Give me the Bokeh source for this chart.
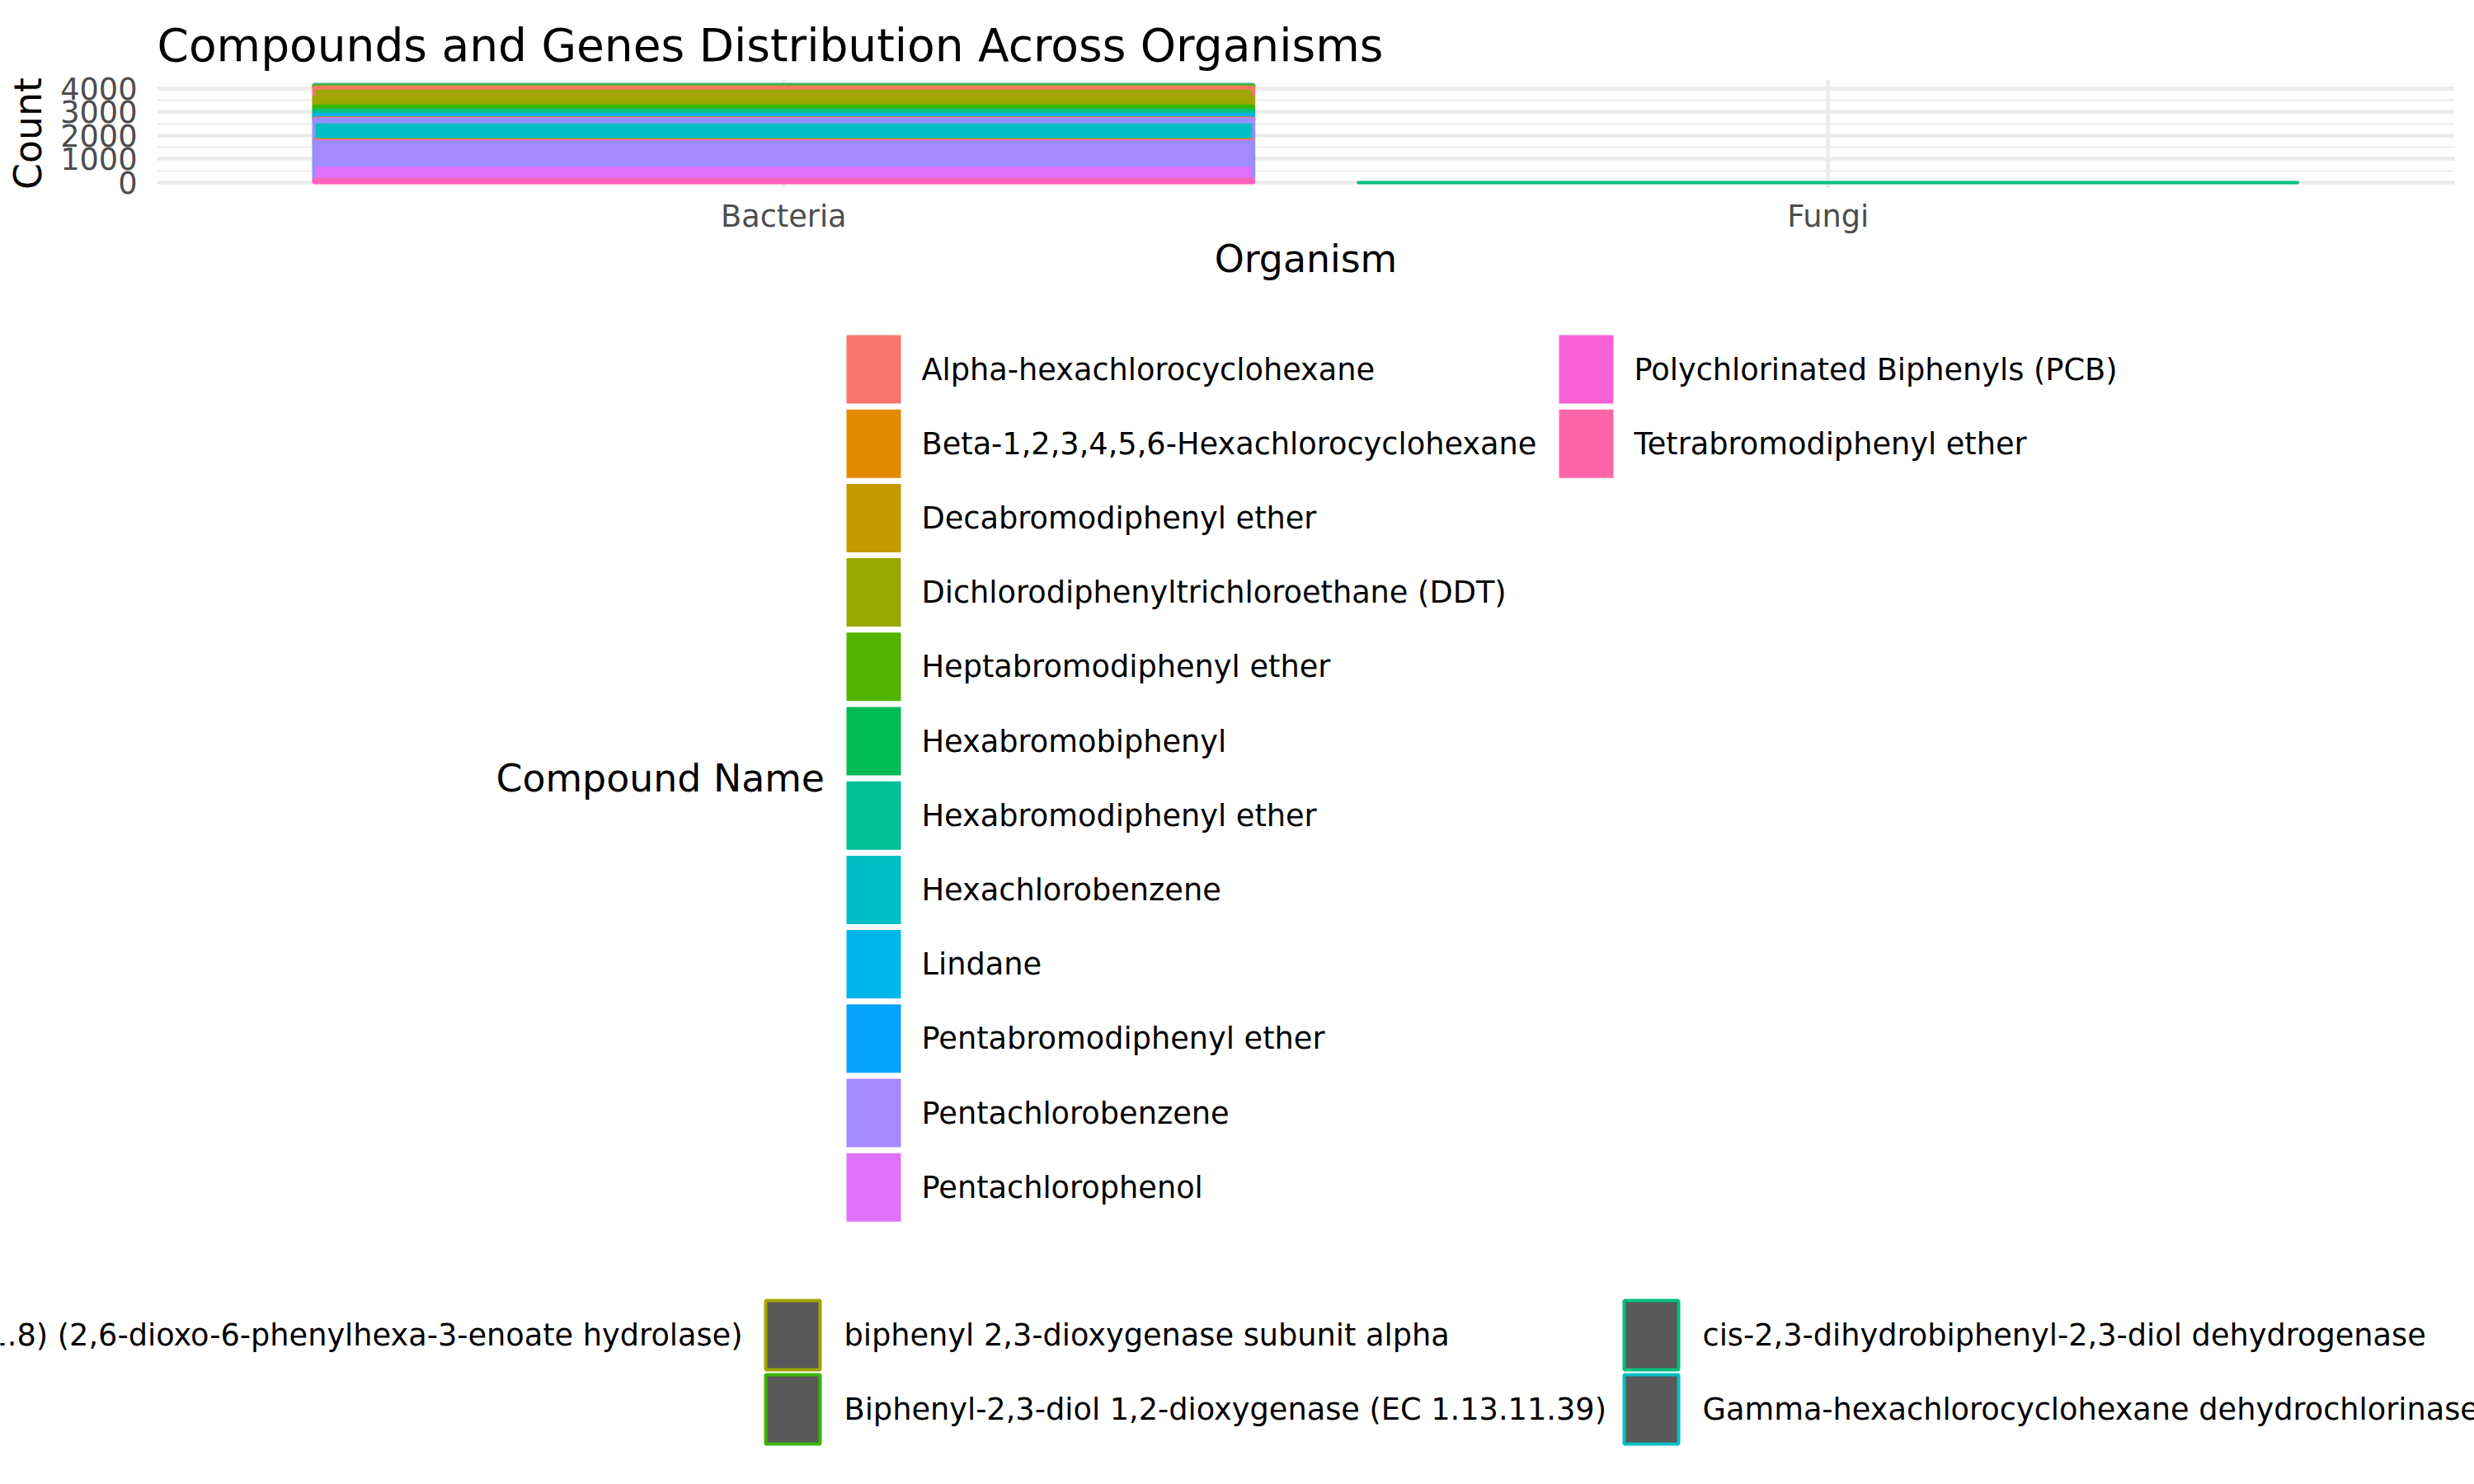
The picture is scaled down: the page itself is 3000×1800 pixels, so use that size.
from bokeh.plotting import figure
from bokeh.models import Range1d, FixedTicker
from bokeh.layouts import column
from bokeh.core.properties import value
from bokeh.embed import file_html
from bokeh.resources import INLINE

# ---------------- data ----------------
organisms = ["Bacteria", "Fungi"]

compounds = [
    "Alpha-hexachlorocyclohexane",
    "Beta-1,2,3,4,5,6-Hexachlorocyclohexane",
    "Decabromodiphenyl ether",
    "Dichlorodiphenyltrichloroethane (DDT)",
    "Heptabromodiphenyl ether",
    "Hexabromobiphenyl",
    "Hexabromodiphenyl ether",
    "Hexachlorobenzene",
    "Lindane",
    "Pentabromodiphenyl ether",
    "Pentachlorobenzene",
    "Pentachlorophenol",
    "Polychlorinated Biphenyls (PCB)",
    "Tetrabromodiphenyl ether",
]

# gene legend entries as far as visible (first label is cut at the page edge,
# second entry of the first column lies off-page)
gene_labels = [
    "1.8) (2,6-dioxo-6-phenylhexa-3-enoate hydrolase)",
    "",
    "biphenyl 2,3-dioxygenase subunit alpha",
    "Biphenyl-2,3-diol 1,2-dioxygenase (EC 1.13.11.39)",
    "cis-2,3-dihydrobiphenyl-2,3-diol dehydrogenase",
    "Gamma-hexachlorocyclohexane dehydrochlorinase",
]

# stacked segments, listed bottom -> top within each organism
seg_organism = ["Bacteria"] * 18 + ["Fungi"]
seg_compound = [12, 11, 10, 11, 2, 7, 10, 11, 2, 8, 6, 4, 3, 3, 1, 5, 2, 9, 5]
seg_gene     = [9, 7, 7, 8, 1, 7, 7, 8, 1, 6, 4, 3, 2, 0, 1, 4, 2, 5, 4]
seg_count    = [140, 620, 955, 50, 45, 770, 90, 35, 35, 140, 200, 175, 385, 385,
                35, 35, 35, 35, 4]

# ---------------- style ----------------
compound_palette = ["#F8766D", "#E38900", "#C49A00", "#99A800", "#53B400", "#00BC56",
                    "#00C094", "#00BFC4", "#00B6EB", "#06A4FF", "#A58AFF", "#DF70F8",
                    "#FB61D7", "#FF66A8"]
gene_palette = ["#F8766D", "#D89000", "#A3A500", "#39B600", "#00BF7D", "#00BFC4",
                "#00B0F6", "#9590FF", "#E76BF3", "#FF62BC"]
FONT = "DejaVu Sans"
GRID = "#EBEBEB"
SMALL = "36.7px"
MID = "45.8px"

# ---------------- stacking ----------------
xs, bottoms, tops, fills, lines = [], [], [], [], []
running = {o: 0 for o in organisms}
for o, c, g, n in zip(seg_organism, seg_compound, seg_gene, seg_count):
    b = running[o]
    running[o] = b + n
    xs.append(organisms.index(o) + 1)
    bottoms.append(b)
    tops.append(b + n)
    fills.append(compound_palette[c])
    lines.append(gene_palette[g])
# ggplot draws the top segments first: reverse so lower ones overlay
xs, bottoms, tops, fills, lines = [l[::-1] for l in (xs, bottoms, tops, fills, lines)]
ymax = max(running.values())

# ---------------- main plot ----------------
W = 3000
H1 = 350
p = figure(width=W, height=H1, output_backend="svg", toolbar_location=None,
           x_range=Range1d(0.4, len(organisms) + 0.6),
           y_range=Range1d(-0.05 * ymax, 1.05 * ymax),
           min_border_left=190, min_border_right=24, min_border_top=96,
           min_border_bottom=H1 - 227)
p.outline_line_color = None
p.background_fill_color = "white"
p.border_fill_color = "white"

p.title.text = "Compounds and Genes Distribution Across Organisms"
p.title.text_font = FONT
p.title.text_font_size = "55px"
p.title.text_font_style = "normal"
p.title.text_color = "black"
p.title.align = "left"
p.title.standoff = 19
p.title.offset = 0

p.vbar(x=xs, bottom=bottoms, top=tops, width=0.9, fill_color=fills,
       line_color=lines, line_width=4)

xt = FixedTicker(ticks=list(range(1, len(organisms) + 1)))
p.xaxis.ticker = xt
p.xaxis.major_label_overrides = {i + 1: o for i, o in enumerate(organisms)}
p.yaxis.ticker = FixedTicker(ticks=[0, 1000, 2000, 3000, 4000],
                             minor_ticks=[500, 1500, 2500, 3500])
for ax in (p.xaxis[0], p.yaxis[0]):
    ax.axis_line_color = None
    ax.major_tick_line_color = None
    ax.minor_tick_line_color = None
    ax.major_tick_out = 0
    ax.major_tick_in = 0
    ax.minor_tick_out = 0
    ax.major_label_text_font = FONT
    ax.major_label_text_font_size = SMALL
    ax.major_label_text_color = "#4D4D4D"
    ax.axis_label_text_font = FONT
    ax.axis_label_text_font_size = MID
    ax.axis_label_text_font_style = "normal"
    ax.axis_label_text_color = "black"
p.xaxis.axis_label = "Organism"
p.yaxis.axis_label = "Count"
p.xaxis.major_label_standoff = 13
p.xaxis.axis_label_standoff = 0
p.yaxis.major_label_standoff = 24
p.yaxis.axis_label_standoff = 9

p.xgrid.grid_line_color = GRID
p.xgrid.grid_line_width = 4.5
p.ygrid.grid_line_color = GRID
p.ygrid.grid_line_width = 4.5
p.ygrid.minor_grid_line_color = GRID
p.ygrid.minor_grid_line_width = 2.2
p.xgrid.level = "underlay"
p.ygrid.level = "underlay"

# ---------------- legends (page-pixel coordinates) ----------------
H2 = 1800 - H1
q = figure(width=W, height=H2, output_backend="svg", toolbar_location=None,
           x_range=Range1d(0, W), y_range=Range1d(1800, H1),
           x_axis_location=None, y_axis_location=None,
           min_border=0, min_border_left=0, min_border_right=0,
           min_border_top=0, min_border_bottom=0)
q.outline_line_color = None
q.xgrid.visible = False
q.ygrid.visible = False
for fig in (p, q):
    if hasattr(fig, "frame_align"):
        fig.frame_align = False

# compound (fill) legend
rows_per_col = 12
key_w, key_h, pitch = 66, 83, 90.2
col_left = [1026, 1890]
top0 = 406
kl, kr, kt, kb, kc, tx, ty, tt = [], [], [], [], [], [], [], []
for i, name in enumerate(compounds):
    col, row = divmod(i, rows_per_col)
    left = col_left[col]
    top = top0 + row * pitch
    kl.append(left); kr.append(left + key_w)
    kt.append(top); kb.append(top + key_h)
    kc.append(compound_palette[i])
    tx.append(left + key_w + 25); ty.append(top + key_h / 2); tt.append(name)
q.quad(left=kl, right=kr, top=kt, bottom=kb, fill_color=kc, line_color=None)
q.text(x=tx, y=ty, text=tt, text_font=value(FONT), text_font_size=SMALL,
       text_baseline="middle", text_align="left", text_color="black")
q.text(x=[601], y=[top0 + (rows_per_col - 1) * pitch / 2 + key_h / 2],
       text=["Compound Name"], text_font=value(FONT), text_font_size=MID,
       text_baseline="middle", text_align="left", text_color="black")

# gene (colour) legend
g_col0_key = 926 - 1041
g_pitch_x = 1041
g_top0 = 1577
g_pitch_y = 90
gl, gr, gt, gb, gc = [], [], [], [], []
lx, ly, lt = [], [], []
rx, ry, rt = [], [], []
for i, name in enumerate(gene_labels):
    col, row = divmod(i, 2)
    left = g_col0_key + col * g_pitch_x + 2
    top = g_top0 + row * g_pitch_y
    if left + 66 > 0:
        gl.append(left); gr.append(left + 66)
        gt.append(top); gb.append(top + 84)
        gc.append(gene_palette[i])
    if not name:
        continue
    if col == 0:
        rx.append(900); ry.append(top + 42); rt.append(name)
    else:
        lx.append(left + 66 + 2 + 27); ly.append(top + 42); lt.append(name)
q.quad(left=gl, right=gr, top=gt, bottom=gb, fill_color="#595959",
       line_color=gc, line_width=4)
q.text(x=lx, y=ly, text=lt, text_font=value(FONT), text_font_size=SMALL,
       text_baseline="middle", text_align="left", text_color="black")
q.text(x=rx, y=ry, text=rt, text_font=value(FONT), text_font_size=SMALL,
       text_baseline="middle", text_align="right", text_color="black")

layout = column(p, q, spacing=0)
open("out.html", "w").write(file_html(layout, INLINE))
